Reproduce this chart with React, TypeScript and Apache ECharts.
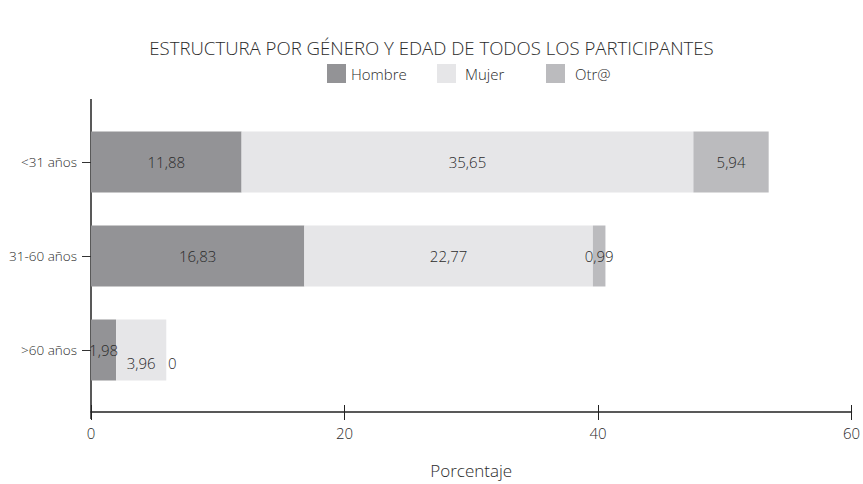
import React, { useEffect, useRef } from "react";
import * as echarts from "echarts";

const categories = ["<31 años", "31-60 años", ">60 años"];
const hombre = [11.88, 16.83, 1.98];
const mujer = [35.65, 22.77, 3.96];
const otro = [5.94, 0.99, 0];
const xTicks = [0, 20, 40, 60];
const legendNames = ["Hombre", "Mujer", "Otr@"];

const FONT = "'Open Sans', sans-serif";
const TXT = "#2b2b2b";
const W = 300;
const fmt = (v: number) => String(v).replace(".", ",");

export default function App() {
  const ref = useRef<HTMLDivElement>(null);
  useEffect(() => {
    document.body.style.margin = "0";
    document.body.style.overflow = "hidden";
    const chart = echarts.init(ref.current!, null, { renderer: "svg" });
    const labelBase = {
      show: true,
      position: "inside",
      color: TXT,
      fontFamily: FONT,
      fontWeight: W,
      fontSize: 15,
      formatter: (p: any) => fmt(p.value),
    };
    const mkData = (arr: number[], special?: (i: number) => any) =>
      arr.map((v, i) => {
        const s = special ? special(i) : null;
        return s ? { value: v, label: s } : v;
      });
    const legendLeft = [322, 432, 541];
    const legendTextPad = [0, 4, 5];
    chart.setOption({
      animation: false,
      textStyle: { fontFamily: FONT },
      title: {
        text: "ESTRUCTURA POR GÉNERO Y EDAD DE TODOS LOS PARTICIPANTES",
        left: "center",
        top: 33,
        textStyle: { fontFamily: FONT, fontSize: 18.6, fontWeight: W, color: TXT },
      },
      legend: legendNames.map((n, i) => ({
        top: 59,
        left: legendLeft[i],
        itemWidth: 19,
        itemHeight: 19,
        icon: "rect",
        textStyle: {
          fontFamily: FONT,
          fontSize: 15,
          fontWeight: W,
          color: TXT,
          padding: [0, 0, 0, legendTextPad[i]],
        },
        data: [n],
      })),
      grid: { left: 91, right: 10, top: 115, bottom: 81, containLabel: false },
      xAxis: [
        {
          type: "value",
          min: xTicks[0],
          max: xTicks[xTicks.length - 1],
          interval: 20,
          offset: 15,
          name: "Porcentaje",
          nameLocation: "middle",
          nameGap: 50,
          nameTextStyle: { fontFamily: FONT, fontSize: 17, fontWeight: W, color: TXT },
          axisLine: { show: true, lineStyle: { color: "#222", width: 1.5 } },
          axisTick: { show: true, length: 8, lineStyle: { color: "#222" } },
          axisLabel: { fontFamily: FONT, fontSize: 15, fontWeight: W, color: TXT, margin: 13 },
          splitLine: { show: false },
        },
        {
          type: "value",
          min: xTicks[0],
          max: xTicks[xTicks.length - 1],
          interval: 20,
          offset: 15,
          position: "bottom",
          axisLine: { show: false },
          axisTick: { show: true, inside: true, length: 7, lineStyle: { color: "#222" } },
          axisLabel: { show: false },
          splitLine: { show: false },
        },
      ],
      yAxis: {
        type: "category",
        inverse: true,
        data: categories,
        axisLine: { show: false },
        axisTick: { show: true, length: 9, alignWithLabel: true, lineStyle: { color: "#333" } },
        axisLabel: { fontFamily: FONT, fontSize: 13.5, fontWeight: W, color: TXT, margin: 14 },
      },
      graphic: [
        {
          type: "line",
          shape: { x1: 91, y1: 99, x2: 91, y2: 419 },
          style: { stroke: "#222", lineWidth: 1.5 },
          silent: true,
        },
      ],
      series: [
        {
          name: "Hombre",
          type: "bar",
          stack: "t",
          barWidth: 61,
          itemStyle: { color: "#939396" },
          label: labelBase,
          data: mkData(hombre, (i) => (i === 2 ? { offset: [0, 0] } : null)),
        },
        {
          name: "Mujer",
          type: "bar",
          stack: "t",
          barWidth: 61,
          itemStyle: { color: "#e6e6e8" },
          label: labelBase,
          data: mkData(mujer, (i) => (i === 2 ? { offset: [0, 13] } : null)),
        },
        {
          name: "Otr@",
          type: "bar",
          stack: "t",
          barWidth: 61,
          itemStyle: { color: "#bbbbbe" },
          label: labelBase,
          data: mkData(otro, (i) => (i === 2 ? { offset: [6, 13] } : null)),
        },
      ],
    });
    return () => chart.dispose();
  }, []);
  return <div ref={ref} style={{ width: 863, height: 484 }} />;
}
